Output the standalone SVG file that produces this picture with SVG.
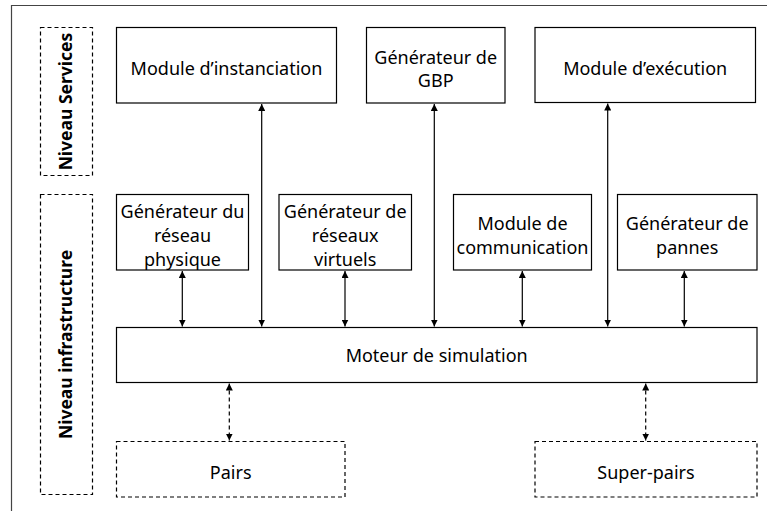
<svg xmlns="http://www.w3.org/2000/svg" width="767" height="511" viewBox="0 0 767 511">
<style>
.box{fill:#fff;stroke:#000;stroke-width:1.2}
.dbox{fill:#fff;stroke:#000;stroke-width:1.2;stroke-dasharray:4 3}
.t{font-family:"Noto Sans","Open Sans",sans-serif;font-size:18px;fill:#000;text-anchor:middle}
.v{font-family:"Noto Sans","Open Sans",sans-serif;font-size:17.5px;font-weight:bold;fill:#000;text-anchor:middle}
.c{stroke:#000;stroke-width:1.2;fill:none;marker-start:url(#a);marker-end:url(#a)}
.cd{stroke:#000;stroke-width:1.2;fill:none;stroke-dasharray:4 3;marker-start:url(#a);marker-end:url(#a)}
</style>
<defs>
<marker id="a" viewBox="0 0 10 10" refX="10" refY="5" markerWidth="7" markerHeight="7" markerUnits="userSpaceOnUse" orient="auto-start-reverse">
<path d="M0,0 L10,5 L0,10 z" fill="#000"/>
</marker>
</defs>
<rect width="767" height="511" fill="#fff"/>
<path d="M11.5,511 V5.5 H767" fill="none" stroke="#444" stroke-width="1.2"/>

<g id="niveau-services">
<rect class="dbox" x="40.5" y="27.5" width="52" height="148"/>
<text class="v" transform="translate(72,101.5) rotate(-90)">Niveau Services</text>
</g>
<g id="niveau-infrastructure">
<rect class="dbox" x="40.5" y="194.5" width="52" height="300"/>
<text class="v" transform="translate(72,344.5) rotate(-90)">Niveau infrastructure</text>
</g>

<g id="module-instanciation">
<rect class="box" x="116.5" y="27.5" width="220" height="75.5"/>
<text class="t" x="226.5" y="74.5">Module d’instanciation</text>
</g>
<g id="generateur-gbp">
<rect class="box" x="366.5" y="27.5" width="138.5" height="75.5"/>
<text class="t" x="435.7" y="63.5">Générateur de</text>
<text class="t" x="435.7" y="86.5">GBP</text>
</g>
<g id="module-execution">
<rect class="box" x="535" y="27.5" width="220.5" height="75"/>
<text class="t" x="645.2" y="75">Module d’exécution</text>
</g>

<g id="generateur-reseau-physique">
<rect class="box" x="116.5" y="194.5" width="132" height="75.5"/>
<text class="t" x="182.5" y="218">Générateur du</text>
<text class="t" x="182.5" y="242">réseau</text>
<text class="t" x="182.5" y="266">physique</text>
</g>
<g id="generateur-reseaux-virtuels">
<rect class="box" x="279" y="194.5" width="132.5" height="75.5"/>
<text class="t" x="345.2" y="218">Générateur de</text>
<text class="t" x="345.2" y="242">réseaux</text>
<text class="t" x="345.2" y="266">virtuels</text>
</g>
<g id="module-communication">
<rect class="box" x="453.5" y="194.5" width="138" height="75.5"/>
<text class="t" x="522.5" y="230">Module de</text>
<text class="t" x="522.5" y="253.5">communication</text>
</g>
<g id="generateur-pannes">
<rect class="box" x="617.5" y="194.5" width="139.5" height="75.5"/>
<text class="t" x="687.2" y="230">Générateur de</text>
<text class="t" x="687.2" y="253.5">pannes</text>
</g>

<g id="moteur-simulation">
<rect class="box" x="116.5" y="327.5" width="640.5" height="55"/>
<text class="t" x="436.7" y="361.5">Moteur de simulation</text>
</g>

<g id="pairs">
<rect class="dbox" x="116.5" y="441.5" width="228.5" height="55.5"/>
<text class="t" x="230.7" y="479">Pairs</text>
</g>
<g id="super-pairs">
<rect class="dbox" x="535" y="441.5" width="222" height="55.5"/>
<text class="t" x="646" y="479">Super-pairs</text>
</g>

<g id="connectors">
<line class="c" x1="261.7" y1="104" x2="261.7" y2="326.5"/>
<line class="c" x1="434.3" y1="104" x2="434.3" y2="326.5"/>
<line class="c" x1="607.7" y1="103.5" x2="607.7" y2="326.5"/>
<line class="c" x1="182.3" y1="271" x2="182.3" y2="326.5"/>
<line class="c" x1="345" y1="271" x2="345" y2="326.5"/>
<line class="c" x1="522.3" y1="271" x2="522.3" y2="326.5"/>
<line class="c" x1="684.3" y1="271" x2="684.3" y2="326.5"/>
<line class="cd" x1="229.3" y1="383.5" x2="229.3" y2="440.5"/>
<line class="cd" x1="645.7" y1="383.5" x2="645.7" y2="440.5"/>
</g>
</svg>
